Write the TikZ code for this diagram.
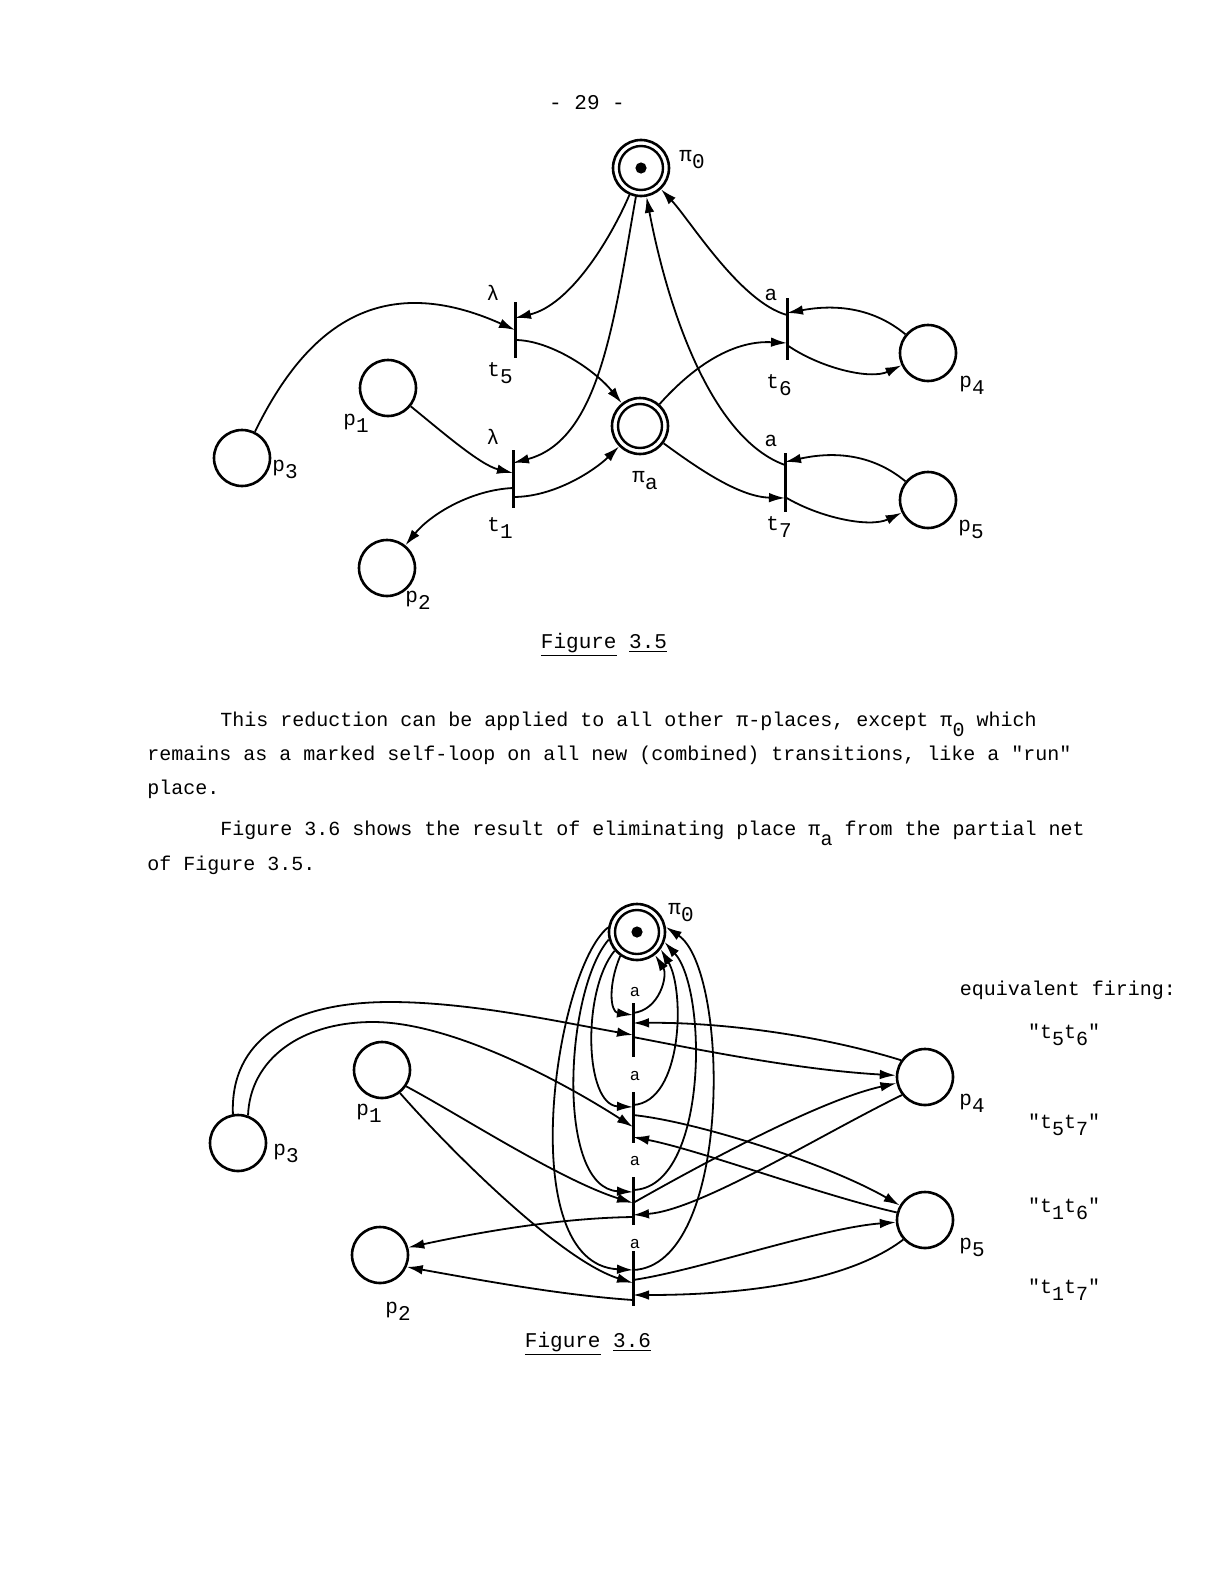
\documentclass[tikz,border=0pt]{standalone}
\usepackage{fontspec}
\setmainfont{Liberation Mono}[Ligatures=TeXOff]
\usetikzlibrary{arrows.meta,calc}
\newcommand{\sbs}[1]{\raisebox{-3.5pt}{#1}}
\newcommand{\tsbs}[1]{\raisebox{-5pt}{#1}}
\begin{document}
\begin{tikzpicture}[x=0.5pt,y=-0.5pt,
  pnode/.style={circle,draw,line width=1.3pt,minimum size=28pt,inner sep=0pt},
  tbar/.style={rectangle,fill=black,minimum width=1.5pt,inner sep=0pt,minimum height=#1},
  arr/.style={line width=0.9pt,-{Latex[length=8pt,width=4.8pt]}},
  lab/.style={font=\fontsize{10.5}{12}\selectfont,inner sep=0pt},
  rlab/.style={font=\fontsize{10}{12}\selectfont,inner sep=0pt},
  small/.style={font=\fontsize{8.5}{10}\selectfont,inner sep=0pt},
  txt/.style={font=\fontsize{10}{12}\selectfont,inner sep=0pt,anchor=mid west},
]
\fill[white] (0,0) rectangle (1205,1584);
\useasboundingbox (0,0) rectangle (1205,1584);

\node[lab] (pnum) at (587,103) {- 29 -};

% ---------------- Figure 3.5 ----------------
\node[pnode] (pi0) at (641,168) {};
\draw[line width=1.2pt] (pi0.center) circle[radius=11pt];
\fill (pi0.center) circle[radius=2.8pt];
\node[pnode] (pia) at (640,426) {};
\draw[line width=1.2pt] (pia.center) circle[radius=11pt];

\node[pnode] (p3) at (242,458) {};
\node[pnode] (p1) at (388,388) {};
\node[pnode] (p2) at (387,568) {};
\node[pnode] (p4) at (928,353) {};
\node[pnode] (p5) at (928,500) {};

\node[tbar=28pt] (t5) at (515,330) {};
\node[tbar=29pt] (t1) at (513,479) {};
\node[tbar=31pt] (t6) at (787,329) {};
\node[tbar=29.5pt] (t7) at (785,482) {};

\node[lab] (lpi0) at (692,160) {π\sbs{0}};
\node[lab] (lpia) at (645,481) {π\sbs{a}};
\node[lab] (lp3) at (285,469) {p\sbs{3}};
\node[lab] (lp1) at (356,423) {p\sbs{1}};
\node[lab] (lp2) at (418,600) {p\sbs{2}};
\node[lab] (lp4) at (972,385) {p\sbs{4}};
\node[lab] (lp5) at (971,529) {p\sbs{5}};
\node[lab] (lt5) at (500,373) {t\sbs{5}};
\node[lab] (lt1) at (500,528) {t\sbs{1}};
\node[lab] (lt6) at (779,385) {t\sbs{6}};
\node[lab] (lt7) at (779,527) {t\sbs{7}};
\node[lab] (lam5) at (493,293) {λ};
\node[lab] (lam1) at (493,437) {λ};
\node[lab] (la6) at (771,295) {a};
\node[lab] (la7) at (771,441) {a};

\draw[arr] (p3) .. controls (300,340) and (370,265) .. ($(t5)+(0,0)$);
\draw[arr] (pi0) .. controls (610,240) and (570,305) .. ($(t5)+(0,-12)$);
\draw[arr] ($(t5)+(0,10)$) .. controls (550,340) and (595,370) .. (pia);
\draw[arr] (pi0) .. controls (614,320) and (600,440) .. ($(t1)+(0,-16)$);
\draw[arr] (p1) .. controls (440,430) and (480,465) .. ($(t1)+(0,-6)$);
\draw[arr] ($(t1)+(0,9)$) .. controls (470,490) and (430,515) .. (p2);
\draw[arr] ($(t1)+(0,18)$) .. controls (555,497) and (595,470) .. (pia);
\draw[arr] (pia) .. controls (690,370) and (730,340) .. ($(t6)+(0,14)$);
\draw[arr] (pia) .. controls (700,470) and (740,497) .. ($(t7)+(0,16)$);
\draw[arr] (p4) .. controls (870,305) and (830,305) .. ($(t6)+(0,-16)$);
\draw[arr] ($(t6)+(0,16)$) .. controls (820,368) and (870,380) .. (p4);
\draw[arr] (p5) .. controls (870,452) and (830,452) .. ($(t7)+(0,-20)$);
\draw[arr] ($(t7)+(0,15)$) .. controls (820,518) and (870,528) .. (p5);
\draw[arr] ($(t6)+(0,-14)$) .. controls (740,302) and (690,220) .. (pi0);
\draw[arr] ($(t7)+(0,-17)$) .. controls (715,440) and (670,320) .. (pi0);

\node[lab] (cap5) at (604,645) {\underline{Figure} \underline{3.5}};

% ---------------- Text ----------------
\node[txt] (tx1) at (220,721) {This reduction can be applied to all other π-places, except π\tsbs{0} which};
\node[txt] (tx2) at (147,755) {remains as a marked self-loop on all new (combined) transitions, like a "run"};
\node[txt] (tx3) at (147,789) {place.};
\node[txt] (tx4) at (220,830) {Figure 3.6 shows the result of eliminating place π\tsbs{a} from the partial net};
\node[txt] (tx5) at (147,865) {of Figure 3.5.};

% ---------------- Figure 3.6 ----------------
\node[pnode] (pi0b) at (637,932) {};
\draw[line width=1.2pt] (pi0b.center) circle[radius=11pt];
\fill (pi0b.center) circle[radius=2.8pt];

\node[pnode] (p3b) at (238,1143) {};
\node[pnode] (p1b) at (382,1070) {};
\node[pnode] (p2b) at (380,1255) {};
\node[pnode] (p4b) at (925,1077) {};
\node[pnode] (p5b) at (925,1220) {};

\node[tbar=27pt] (T1) at (633,1030) {};
\node[tbar=25.5pt] (T2) at (633,1117) {};
\node[tbar=24pt] (T3) at (633,1201) {};
\node[tbar=27.5pt] (T4) at (633,1278) {};

\node[small] (aT1) at (635,992) {a};
\node[small] (aT2) at (635,1076) {a};
\node[small] (aT3) at (635,1161) {a};
\node[small] (aT4) at (635,1244) {a};

\node[lab] (lpi0b) at (681,913) {π\sbs{0}};
\node[lab] (lp3b) at (286,1153) {p\sbs{3}};
\node[lab] (lp1b) at (369,1113) {p\sbs{1}};
\node[lab] (lp2b) at (398,1311) {p\sbs{2}};
\node[lab] (lp4b) at (972,1103) {p\sbs{4}};
\node[lab] (lp5b) at (972,1247) {p\sbs{5}};

\node[rlab] (eqf) at (1068,990) {equivalent firing:};
\node[rlab] (f1) at (1064,1035) {"t\sbs{5}t\sbs{6}"};
\node[rlab] (f2) at (1064,1125) {"t\sbs{5}t\sbs{7}"};
\node[rlab] (f3) at (1064,1209) {"t\sbs{1}t\sbs{6}"};
\node[rlab] (f4) at (1064,1290) {"t\sbs{1}t\sbs{7}"};

% loops with pi0
\draw[arr] (pi0b.235) .. controls (608,985) and (610,1012) .. ($(T1)+(0,-15)$);
\draw[arr] ($(T1)+(0,-17)$) .. controls (660,1010) and (668,975) .. (pi0b.308);
\draw[arr] (pi0b.220) .. controls (582,990) and (584,1105) .. ($(T2)+(0,-10)$);
\draw[arr] ($(T2)+(0,-12)$) .. controls (683,1102) and (685,990) .. (pi0b.324);
\draw[arr] (pi0b.195) .. controls (565,990) and (555,1188) .. ($(T3)+(0,-9)$);
\draw[arr] ($(T3)+(0,-11)$) .. controls (708,1188) and (708,990) .. (pi0b.340);
\draw[arr] (pi0b.171) .. controls (555,970) and (512,1264) .. ($(T4)+(0,-8)$);
\draw[arr] ($(T4)+(0,-8)$) .. controls (733,1266) and (730,970) .. (pi0b.10);

% p3 arcs
\draw[arr] (p3b.100) .. controls (230,1040) and (290,1002) .. (390,1002)
   .. controls (470,1002) and (560,1022) .. ($(T1)+(0,5)$);
\draw[arr] (p3b.70) .. controls (250,1060) and (300,1022) .. (373,1022)
   .. controls (450,1022) and (560,1080) .. ($(T2)+(0,10)$);

% T1
\draw[arr] ($(T1)+(0,7)$) .. controls (700,1050) and (800,1070) .. (p4b);
\draw[arr] (p4b.145) .. controls (820,1035) and (720,1022) .. ($(T1)+(0,-7)$);
% T2
\draw[arr] ($(T2)+(0,-2)$) .. controls (700,1122) and (830,1165) .. (p5b);
\draw[arr] (p5b.165) .. controls (820,1195) and (700,1150) .. ($(T2)+(0,20)$);
% T3
\draw[arr] ($(T3)+(0,2)$) .. controls (700,1165) and (820,1100) .. (p4b);
\draw[arr] (p4b.218) .. controls (820,1135) and (700,1210) .. ($(T3)+(0,14)$);
\draw[arr] (p1b.326) .. controls (460,1115) and (560,1180) .. ($(T3)+(0,2)$);
\draw[arr] ($(T3)+(0,16)$) .. controls (560,1218) and (480,1232) .. (p2b.15);
% T4
\draw[arr] (p1b.308) .. controls (450,1150) and (560,1260) .. ($(T4)+(0,5)$);
\draw[arr] ($(T4)+(0,2)$) .. controls (700,1270) and (820,1228) .. (p5b);
\draw[arr] (p5b.222) .. controls (850,1280) and (750,1295) .. ($(T4)+(0,17)$);
\draw[arr] ($(T4)+(0,22)$) .. controls (560,1295) and (480,1280) .. (p2b.336);

\node[lab] (cap6) at (588,1344) {\underline{Figure} \underline{3.6}};
\end{tikzpicture}
\end{document}
